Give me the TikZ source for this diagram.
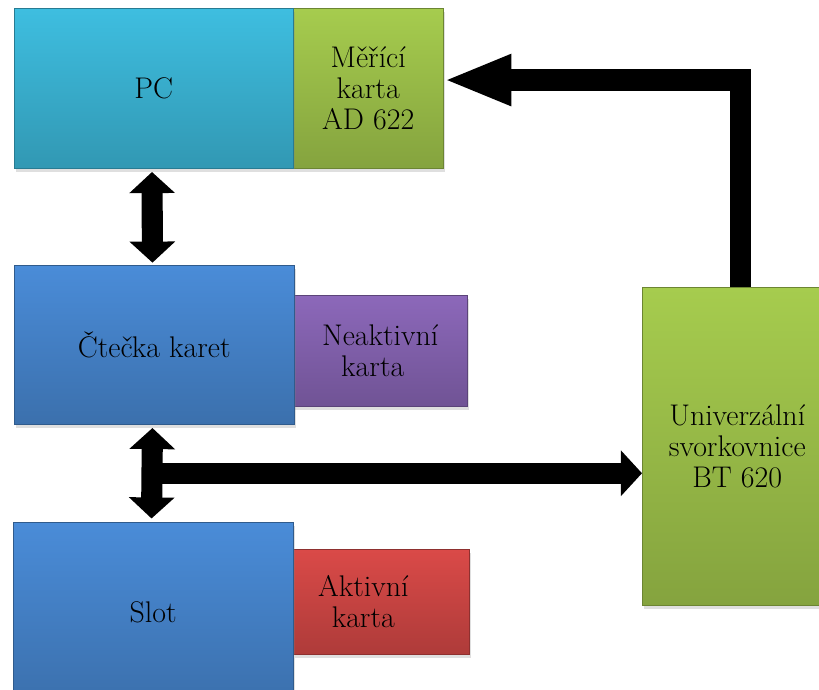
\documentclass[tikz,border=0pt]{standalone}
\usepackage{fontspec}
\usetikzlibrary{arrows.meta,shadows,calc}
\definecolor{pccyan}{RGB}{62,190,224}
\definecolor{cardgreen}{RGB}{166,204,78}
\definecolor{readblue}{RGB}{74,140,216}
\definecolor{cardviolet}{RGB}{140,104,186}
\definecolor{cardred}{RGB}{218,74,72}

\begin{document}
\begin{tikzpicture}[
		x=0.03cm, y=-0.03cm,
		every node/.style={font=\fontsize{25.5}{26.5}\selectfont},
		box/.style={rectangle, draw=#1!65!black, anchor=north west, align=center, inner sep=2pt,
			top color=#1, bottom color=#1!80!black,
			drop shadow={shadow xshift=1.5pt, shadow yshift=-3pt, opacity=0.25}},
		link/.style={line width=18pt, black, line join=miter},
		bhead/.tip={Triangle[length=18pt, width=38pt]},
		lhead/.tip={Triangle[length=58pt, width=40pt]}
		]
		
		% Frame of the picture
		\useasboundingbox (0,0) rectangle (819,689);
		\clip (0,0) rectangle (819,689);
		
		% Cards beside the main blocks
		\node[box=cardgreen, minimum width=4.5cm, minimum height=4.8cm] (ad) at (293,8) {Měřící\\karta\\AD 622};
		\node[box=cardviolet, minimum width=5.22cm, minimum height=3.33cm] (neakt) at (293,295) {Neaktivní\\karta\hspace*{0.5em}};
		\node[box=cardred, minimum width=5.28cm, minimum height=3.15cm] (akt) at (293,549) {Aktivní\hspace*{1.2em}\\karta\hspace*{1.2em}};
		
		% Main blocks
		\node[box=pccyan, minimum width=8.37cm, minimum height=4.8cm] (pc) at (14,8) {PC};
		\node[box=readblue, minimum width=8.4cm, minimum height=4.77cm] (ctecka) at (14,265) {Čtečka karet};
		\node[box=readblue, minimum width=8.4cm, minimum height=5.4cm] (slot) at (13,522) {Slot};
		\node[box=cardgreen, minimum width=5.7cm, minimum height=9.54cm] (bt) at (642,287) {Univerzální\\svorkovnice\\BT 620};
		
		% Connections
		\coordinate (tee) at ($(ctecka.south)!0.5!(slot.north)$);
		\draw[link, -{bhead}] ([xshift=-1.5pt]tee) -- (tee -| bt.west);
		\draw[link, {bhead}-{bhead}, shorten <=3pt, shorten >=2pt] ([xshift=-1.5pt]pc.south) -- ([xshift=-1.5pt]ctecka.north);
		\draw[link, {bhead}-{bhead}, shorten <=3pt, shorten >=3pt] ([xshift=-1.5pt]ctecka.south) -- ([xshift=-1.5pt]slot.north);
		\draw[link, -{lhead}] ([xshift=3pt]bt.north) |- ([yshift=7pt]ad.east);
	\end{tikzpicture}
\end{document}
